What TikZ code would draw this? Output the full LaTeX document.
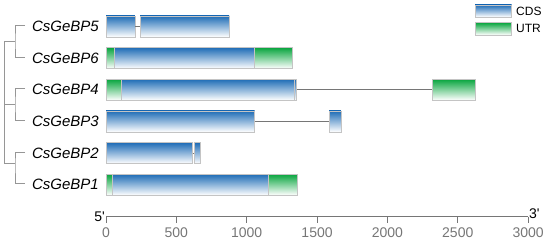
\documentclass[tikz,border=0pt]{standalone}
\usepackage{fontspec}
\setmainfont{Liberation Sans}
\usetikzlibrary{positioning,calc}
\definecolor{cdsblue}{RGB}{30,108,182}
\definecolor{utrgreen}{RGB}{8,165,62}
\definecolor{boxgray}{RGB}{196,196,196}
\definecolor{linegray}{RGB}{118,118,118}
\definecolor{treegray}{RGB}{150,150,150}
\newcommand{\bpx}{0.1407}
% exon box: name, row, start (bp), end (bp), style
\newcommand{\exon}[5]{\node[#5,minimum width={(#4-#3)*\bpx}] (#1) at ({106+#3*\bpx},{26.4+31.65*#2}) {};}

\begin{document}
\begin{tikzpicture}[x=1pt,y=-1pt]
\tikzstyle{ex}=[draw=boxgray,line width=.6pt,inner sep=0,outer sep=0,minimum height=21pt,anchor=west]
\tikzstyle{cds}=[ex,top color=cdsblue,middle color=cdsblue!38!white,bottom color=white]
\tikzstyle{utr}=[ex,top color=utrgreen,middle color=utrgreen!38!white,bottom color=white]
\tikzstyle{intron}=[linegray,line width=1.4pt]
\tikzstyle{br}=[treegray,line width=1pt]
\tikzstyle{gene}=[anchor=east,inner sep=0,font=\fontsize{15}{15}\selectfont\itshape]
\tikzstyle{num}=[font=\fontsize{14}{14}\selectfont]
\useasboundingbox (0,0) rectangle (550,247);

% gene names and tree
\foreach \g/\r in {5/0,6/1,4/2,3/3,2/4,1/5}{
  \node[gene] (g\g) at (99,{26.4+31.65*\r}) {CsGeBP\g};
  \coordinate (l\g) at (25,{25.4+31.65*\r});
}
\coordinate (n56) at (15,41); \coordinate (n34) at (15,104.5); \coordinate (n21) at (15,163.5);
\coordinate (root) at (4,41);
\draw[br] (l5) -| (n56) |- (l6);
\draw[br] (l4) -| (n34) |- (l3);
\draw[br] (l2) -| (n21) |- (l1);
\draw[br] (n56) -- (root) |- (n21);
\draw[br] (root |- n34) -- (n34);

% exons
\exon{a5}{0}{0}{206}{cds} \exon{b5}{0}{242}{875}{cds}
\exon{a6}{1}{0}{62}{utr} \exon{b6}{1}{62}{1057}{cds} \exon{c6}{1}{1057}{1322}{utr}
\exon{a4}{2}{0}{107}{utr} \exon{b4}{2}{107}{1338}{cds} \exon{c4}{2}{1338}{1355}{cds} \exon{d4}{2}{2320}{2624}{utr}
\exon{a3}{3}{0}{1057}{cds} \exon{b3}{3}{1585}{1670}{cds}
\exon{a2}{4}{0}{616}{cds} \exon{b2}{4}{627}{672}{cds}
\exon{a1}{5}{0}{45}{utr} \exon{b1}{5}{45}{1155}{cds} \exon{c1}{5}{1155}{1362}{utr}
\draw[intron] (a5.east) -- (b5.west);
\draw[intron] (c4.east) -- (d4.west);
\draw[intron] (a3.east) -- (b3.west);
\draw[intron,line width=.8pt] (a2.east) -- (b2.west);

% legend
\node[cds,minimum width=36.7pt,minimum height=12pt] (kcds) at (475,10.9) {};
\node[utr,minimum width=36.7pt,minimum height=12.3pt] (kutr) at (475,28.8) {};
\node[right=1pt of kcds,font=\fontsize{12}{12}\selectfont] (tcds) {CDS};
\node[right=1pt of kutr,font=\fontsize{12}{12}\selectfont] (tutr) {UTR};

% scale axis
\coordinate (a0) at (106,216.7); \coordinate (a3k) at (528,216.7);
\draw[linegray,line width=1pt] (a0) -- (a3k);
\foreach \t in {0,500,...,3000}
  \draw[linegray,line width=1pt] ({106+\t*\bpx},216.7) -- ++(0,6.5) node[below=1pt,num] {\t};
\node[num,anchor=east,inner sep=1pt] (p5) at (a0) {5\textquotesingle};
\node[num,anchor=west,inner sep=1pt,yshift=3pt] (p3) at (a3k) {3\textquotesingle};
\end{tikzpicture}
\end{document}
